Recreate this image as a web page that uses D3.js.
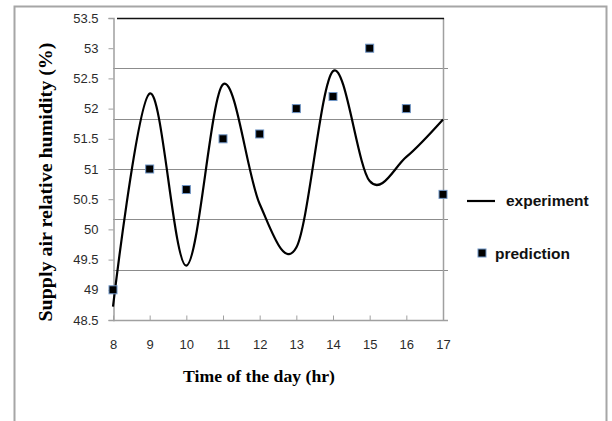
<!DOCTYPE html>
<html>
<head>
<meta charset="utf-8">
<script src="https://cdn.jsdelivr.net/npm/d3@7"></script>
<style>
  html, body { margin: 0; padding: 0; background: #fff; }
  svg { display: block; }
</style>
</head>
<body>
<div id="chart"></div>
<script>
(function () {
  "use strict";

  // hours of the day
  var hours = [8, 9, 10, 11, 12, 13, 14, 15, 16, 17];
  // measured supply air RH (smoothed line)
  var experiment = [48.72, 52.25, 49.4, 52.4, 50.42, 49.7, 52.62, 50.8, 51.2, 51.82];
  // model prediction (markers)
  var prediction = [49.0, 51.0, 50.66, 51.5, 51.58, 52.0, 52.2, 53.0, 52.0, 50.58];
  var yTicks = [48.5, 49, 49.5, 50, 50.5, 51, 51.5, 52, 52.5, 53, 53.5];
  var seriesNames = ["experiment", "prediction"];

  var W = 612, H = 421;
  var m = { left: 113, right: 443, top: 18, bottom: 320 };

  var svg = d3.select("#chart").append("svg")
    .attr("width", W)
    .attr("height", H);

  // outer chart frame (bottom edge is off the picture)
  svg.append("path")
    .attr("d", "M14.5," + (H + 2) + "V6.5H606.5V" + (H + 2))
    .attr("fill", "none")
    .attr("stroke", "#a6a6a6")
    .attr("stroke-width", 2);

  var x = d3.scaleLinear().domain([8, 17]).range([m.left, m.right]);
  var y = d3.scaleLinear().domain([48.5, 53.5]).range([m.bottom, m.top]);

  // horizontal gridlines (Excel put them on a 6-step grid)
  var gridVals = d3.range(1, 6).map(function (i) { return 53.5 - i * 5 / 6; });
  svg.append("g")
    .selectAll("line")
    .data(gridVals)
    .join("line")
    .attr("x1", m.left)
    .attr("x2", m.right + 5)
    .attr("y1", function (d) { return Math.round(y(d)) + 0.5; })
    .attr("y2", function (d) { return Math.round(y(d)) + 0.5; })
    .attr("stroke", "#8c8c8c")
    .attr("stroke-width", 1.2);

  // plot box
  svg.append("line")
    .attr("x1", m.right + 0.5).attr("x2", m.right + 0.5)
    .attr("y1", m.top).attr("y2", m.bottom)
    .attr("stroke", "#a0a0a0").attr("stroke-width", 1.5);
  svg.append("line")
    .attr("x1", m.left + 4).attr("x2", m.right + 1)
    .attr("y1", m.top + 0.5).attr("y2", m.top + 0.5)
    .attr("stroke", "#111").attr("stroke-width", 1.5);

  // y axis
  var yAxis = svg.append("g")
    .attr("transform", "translate(" + (m.left + 0.5) + ",0)")
    .call(d3.axisLeft(y).tickValues(yTicks).tickSize(5).tickPadding(10)
      .tickFormat(function (d) { return d3.format("")(d); }));
  yAxis.select(".domain").attr("stroke", "#a0a0a0").attr("stroke-width", 1.5);
  yAxis.selectAll(".tick line").attr("stroke", "#a0a0a0");
  yAxis.selectAll("text")
    .attr("fill", "#2b2b2b")
    .style("font-family", "'Liberation Sans', Arial, sans-serif")
    .style("font-size", "13px");

  // x axis, ticks point inward
  var xAxis = svg.append("g")
    .attr("transform", "translate(0," + (m.bottom + 0.5) + ")")
    .call(d3.axisBottom(x).tickValues(hours).tickSize(0).tickPadding(19)
      .tickFormat(d3.format("d")));
  xAxis.select(".domain").remove();
  xAxis.selectAll(".tick").append("line")
    .attr("y1", 0).attr("y2", -5)
    .attr("stroke", "#a0a0a0");
  xAxis.selectAll("text")
    .attr("fill", "#2b2b2b")
    .style("font-family", "'Liberation Sans', Arial, sans-serif")
    .style("font-size", "13px");
  svg.append("line")
    .attr("x1", m.left).attr("x2", m.right + 5)
    .attr("y1", m.bottom + 0.5).attr("y2", m.bottom + 0.5)
    .attr("stroke", "#a0a0a0").attr("stroke-width", 1.5);

  // experiment line
  var line = d3.line()
    .x(function (d, i) { return x(hours[i]); })
    .y(function (d) { return y(d); })
    .curve(d3.curveCardinal.tension(0));

  svg.append("path")
    .datum(experiment)
    .attr("d", line)
    .attr("fill", "none")
    .attr("stroke", "#000")
    .attr("stroke-width", 2.2);

  // prediction markers
  var sq = 8;
  svg.append("g")
    .selectAll("rect")
    .data(prediction)
    .join("rect")
    .attr("x", function (d, i) { return x(hours[i]) - sq / 2; })
    .attr("y", function (d) { return y(d) - sq / 2; })
    .attr("width", sq)
    .attr("height", sq)
    .attr("fill", "#000")
    .attr("stroke", "#6f95c6")
    .attr("stroke-width", 1);

  // axis titles
  svg.append("text")
    .attr("x", 259)
    .attr("y", 382)
    .attr("text-anchor", "middle")
    .attr("textLength", 152)
    .attr("lengthAdjust", "spacingAndGlyphs")
    .style("font-family", "'Liberation Serif', 'Times New Roman', serif")
    .style("font-weight", "bold")
    .style("font-size", "17.5px")
    .text("Time of the day (hr)");

  svg.append("text")
    .attr("transform", "translate(52,182) rotate(-90)")
    .attr("text-anchor", "middle")
    .attr("textLength", 279)
    .attr("lengthAdjust", "spacingAndGlyphs")
    .style("font-family", "'Liberation Serif', 'Times New Roman', serif")
    .style("font-weight", "bold")
    .style("font-size", "18px")
    .text("Supply air relative humidity (%)");

  // legend
  var legend = svg.append("g")
    .style("font-family", "'Liberation Sans', Arial, sans-serif")
    .style("font-weight", "bold")
    .style("font-size", "15.5px");
  legend.append("line")
    .attr("x1", 467).attr("x2", 495)
    .attr("y1", 201).attr("y2", 201)
    .attr("stroke", "#000").attr("stroke-width", 2.2);
  legend.append("text")
    .attr("x", 506).attr("y", 206)
    .attr("fill", "#111")
    .text(seriesNames[0]);
  legend.append("rect")
    .attr("x", 478).attr("y", 249)
    .attr("width", sq).attr("height", sq)
    .attr("fill", "#000").attr("stroke", "#6f95c6");
  legend.append("text")
    .attr("x", 495).attr("y", 259)
    .attr("fill", "#111")
    .text(seriesNames[1]);
})();
</script>
</body>
</html>
